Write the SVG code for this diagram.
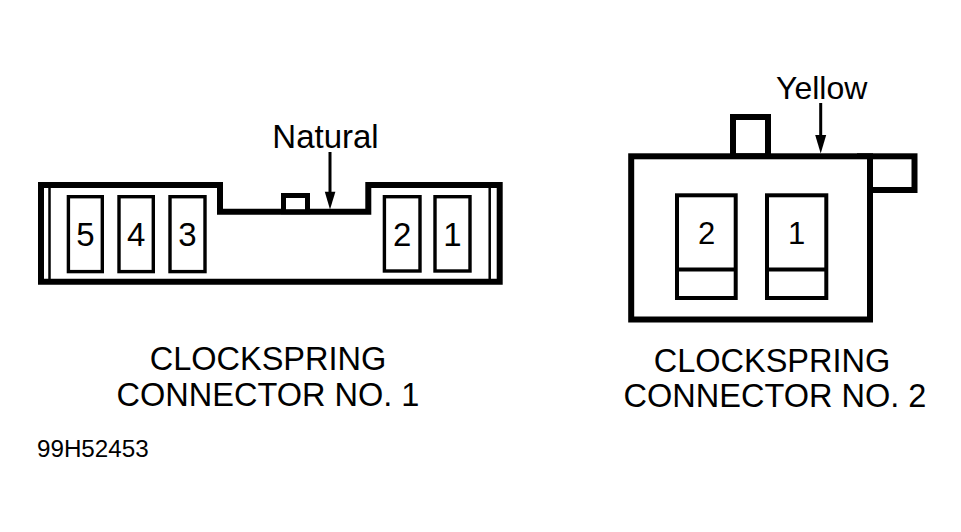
<svg xmlns="http://www.w3.org/2000/svg" width="961" height="532" viewBox="0 0 961 532">
<style>
.t{font-family:"Liberation Sans",Arial,Helvetica,sans-serif;fill:#000;}
.outline{fill:#fff;stroke:#000;stroke-width:6;stroke-linejoin:miter;}
.pin1{fill:#fff;stroke:#000;stroke-width:3.4;}
.pin2{fill:#fff;stroke:#000;stroke-width:4;}
.thin{stroke:#000;stroke-width:2.5;fill:none;}
.lead{stroke:#000;stroke-width:3;fill:none;}
</style>
<rect width="961" height="532" fill="#fff"/>
<g id="connector1">
  <path class="outline" d="M41,185 H220 V211.7 H368.3 V185 H499.7 V281.7 H41 Z"/>
  <line class="thin" x1="49.5" y1="188" x2="49.5" y2="279"/>
  <line class="thin" x1="489.7" y1="188" x2="489.7" y2="279"/>
  <rect class="outline" style="stroke-width:5" x="283.5" y="195.5" width="24" height="16.2"/>
  <rect class="pin1" x="68.4" y="196.7" width="33.9" height="74.9"/>
  <rect class="pin1" x="119" y="196.7" width="34.3" height="74.9"/>
  <rect class="pin1" x="170" y="196.7" width="35" height="74.9"/>
  <rect class="pin1" x="384.4" y="196.7" width="35.6" height="74.3"/>
  <rect class="pin1" x="435" y="196.7" width="35" height="74.3"/>
  <text class="t" font-size="33" text-anchor="middle" x="85.5" y="245.5">5</text>
  <text class="t" font-size="33" text-anchor="middle" x="136.2" y="245.5">4</text>
  <text class="t" font-size="33" text-anchor="middle" x="187.5" y="245.5">3</text>
  <text class="t" font-size="33" text-anchor="middle" x="402.2" y="245.5">2</text>
  <text class="t" font-size="33" text-anchor="middle" x="452.5" y="245.5">1</text>
</g>
<g id="connector2">
  <rect class="outline" x="733" y="117" width="35" height="39.3"/>
  <rect class="outline" x="860" y="156.3" width="54.5" height="33.7"/>
  <rect class="outline" x="631.2" y="156.3" width="238.8" height="163.2"/>
  <rect class="pin2" x="677" y="195.3" width="58.7" height="102.7"/>
  <line class="lead" style="stroke-width:4" x1="677" y1="269.5" x2="735.7" y2="269.5"/>
  <rect class="pin2" x="767" y="195.3" width="59.3" height="102.7"/>
  <line class="lead" style="stroke-width:4" x1="767" y1="269.5" x2="826.3" y2="269.5"/>
  <text class="t" font-size="31" text-anchor="middle" x="706.5" y="243.5">2</text>
  <text class="t" font-size="31" text-anchor="middle" x="796.6" y="243.5">1</text>
</g>
<g id="connectors">
  <line class="lead" x1="330" y1="152" x2="330" y2="194"/>
  <polygon points="324.8,191.7 335.4,191.7 330,209.5" fill="#000"/>
  <line class="lead" x1="820.7" y1="103" x2="820.7" y2="137"/>
  <polygon points="815.2,135 826.2,135 820.7,153.5" fill="#000"/>
</g>
<g id="labels">
  <text class="t" font-size="33" text-anchor="middle" x="325.5" y="148">Natural</text>
  <text class="t" font-size="32" text-anchor="middle" x="821.7" y="99">Yellow</text>
  <text class="t" font-size="32.5" text-anchor="middle" x="268" y="370">CLOCKSPRING</text>
  <text class="t" font-size="32.5" text-anchor="middle" x="268" y="406">CONNECTOR NO. 1</text>
  <text class="t" font-size="32.5" text-anchor="middle" x="772" y="372">CLOCKSPRING</text>
  <text class="t" font-size="32.5" text-anchor="middle" x="775" y="407">CONNECTOR NO. 2</text>
  <text class="t" font-size="24.2" x="37" y="457">99H52453</text>
</g>
</svg>
